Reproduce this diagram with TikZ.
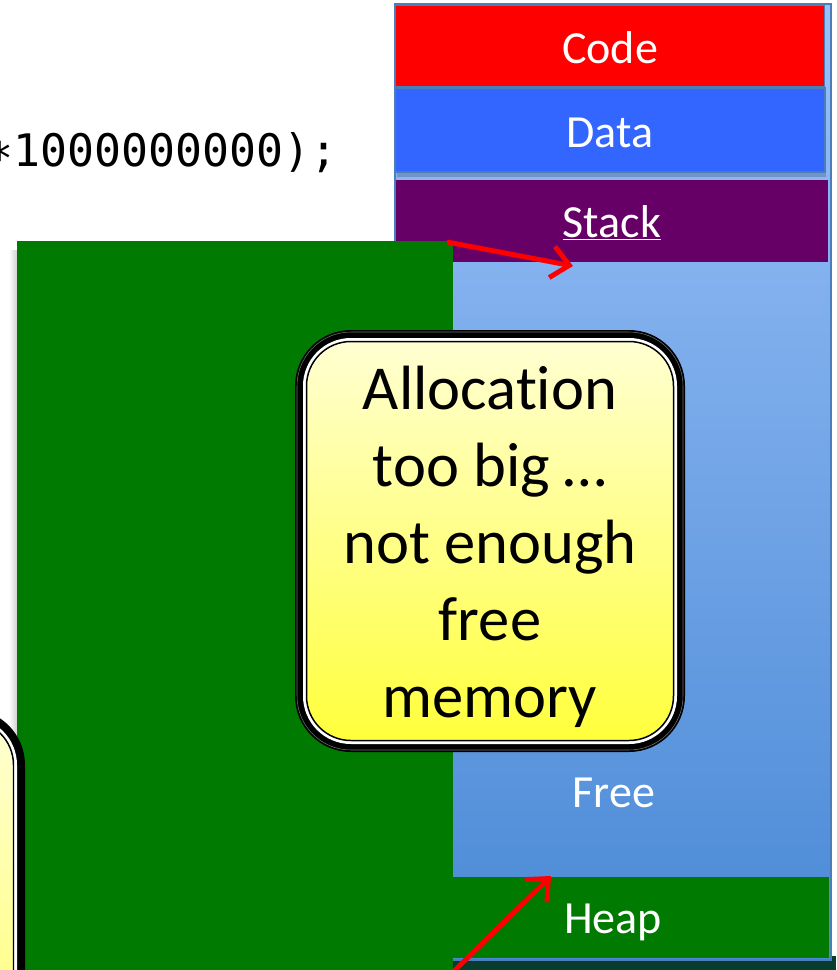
\documentclass[tikz,border=0pt]{standalone}
\usepackage{fontspec}
\setmainfont{Carlito}[Ligatures=NoCommon]
\newfontfamily\codefont{DejaVu Sans Mono}
\usetikzlibrary{arrows.meta}

\definecolor{codered}{HTML}{FF0000}
\definecolor{datablue}{HTML}{3366FF}
\definecolor{stackpurple}{HTML}{660066}
\definecolor{heapgreen}{HTML}{007A00}
\definecolor{frameedge}{HTML}{4A7EBB}
\definecolor{freetop}{HTML}{9AC0F8}
\definecolor{freebottom}{HTML}{4A8AD6}
\definecolor{notetop}{HTML}{FFFFD2}
\definecolor{notebottom}{HTML}{FFFF3C}
\definecolor{darkstrip}{HTML}{083C2C}

\begin{document}
\begin{tikzpicture}[x=0.02cm, y=-0.02cm,
  seg/.style={rectangle, inner sep=0pt, outer sep=0pt, anchor=north west},
  lbl/.style={text=white, font=\fontsize{26.2}{30}\selectfont, anchor=base, inner sep=0pt},
  pointer/.style={draw=codered, line width=2.8pt, -{Straight Barb[length=10pt,width=18pt]}},
  notefill/.style={top color=notetop, bottom color=notebottom, draw=black, line width=0.85pt},
]
\useasboundingbox (0,0) rectangle (836,970);
\clip (0,0) rectangle (836,970);

% source line, cut at the left edge
\node[font=\codefont\fontsize{25.5}{30}\selectfont, anchor=base west, inner sep=0pt]
  (codeline) at (-14,166) {\raisebox{-0.18em}{*}1000000000);};

% strip under the memory column
\fill[darkstrip] (440,956) rectangle (836,970);

% memory column
\node[seg, draw=frameedge, line width=1.1pt, top color=freetop, bottom color=freebottom,
      minimum width=8.72cm, minimum height=19.12cm] (mem) at (395,4) {};
\node[seg, fill=codered, draw=frameedge, line width=0.6pt,
      minimum width=8.6cm, minimum height=1.64cm] (code) at (395,5) {};
\fill[black, opacity=0.18] (397,172) rectangle (826,177);
\node[seg, fill=datablue, draw=frameedge, line width=0.9pt,
      minimum width=8.6cm, minimum height=1.68cm] (data) at (395,88) {};
\node[seg, fill=stackpurple, minimum width=8.64cm, minimum height=1.64cm] (stack) at (396,180) {};
\node[seg, fill=heapgreen, minimum width=7.78cm, minimum height=1.62cm] (heap) at (440,877) {};

\node[lbl] (codelbl)  at (610,63)  {Code};
\node[lbl] (datalbl)  at (610,147) {Data};
\node[lbl] (stacklbl) at (612,237) {\underline{Stack}};
\node[lbl] (freelbl)  at (614,807) {Free};
\node[lbl] (heaplbl)  at (613,933) {Heap};

% the requested block
\shade[left color=white, right color=black!18] (9,250) rectangle (17,975);
\node[seg, fill=heapgreen, minimum width=8.72cm, minimum height=15.18cm] (request) at (17,241) {};

% pointers
\coordinate (stacktip) at (573,266);
\coordinate (heaptip)  at (551,876);
\coordinate (reqtop)   at (447,242);
\coordinate (reqbot)   at (452,973);
\draw[pointer] (reqtop) -- (stacktip);
\draw[pointer] (reqbot) -- (heaptip);

% callout at the left edge
\fill[black, rounded corners=1.12cm] (-400,709) rectangle (25,1300);
\fill[white, rounded corners=0.96cm] (-392,717) rectangle (17,1292);
\shade[notefill, rounded corners=0.89cm] (-388.5,720.5) rectangle (13.5,1288.5);

% main callout
\fill[black, rounded corners=1.12cm] (295,330) rectangle (685,752);
\draw[black!55, line width=0.3pt, rounded corners=1.08cm] (297,332) rectangle (683,750);
\fill[white, rounded corners=0.96cm] (303,338) rectangle (677,744);
\shade[notefill, rounded corners=0.89cm] (306.5,341.5) rectangle (673.5,740.5);
\node[font=\fontsize{35.6}{43.8}\selectfont, align=center, inner sep=0pt]
  (alloc) at (490,547) {Allocation\\too big …\\not enough\\free\\memory};
\end{tikzpicture}
\end{document}
